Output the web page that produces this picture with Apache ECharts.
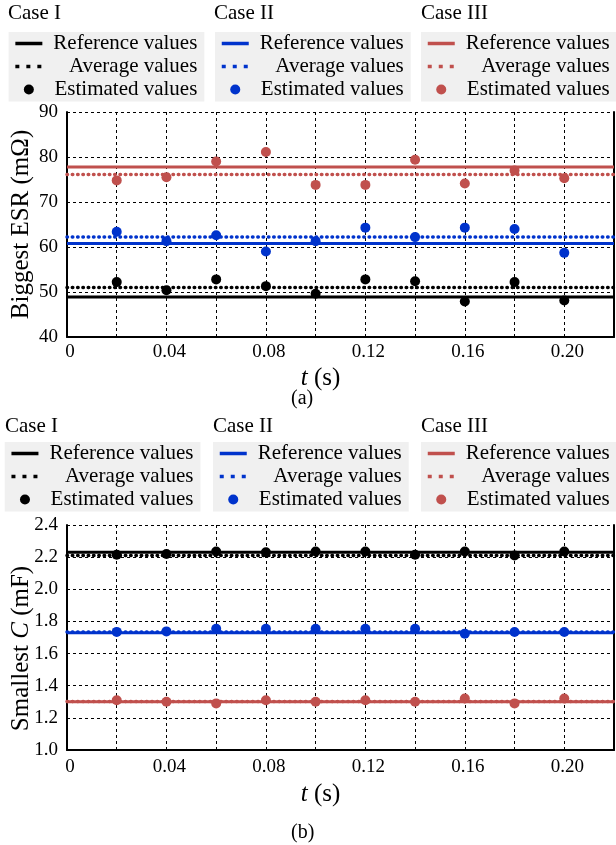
<!DOCTYPE html>
<html>
<head>
<meta charset="utf-8">
<script src="https://cdn.jsdelivr.net/npm/echarts@6/dist/echarts.min.js"></script>
<style>
  html, body { margin: 0; padding: 0; background: #fff; }
  #chart { width: 616px; height: 845px; }
</style>
</head>
<body>
<div id="chart"></div>
<script>
const SERIF = "'Liberation Serif', 'Times New Roman', serif";

const caseNames = ["Case I", "Case II", "Case III"];
const caseColors = ["#000000", "#0033cc", "#c0504d"];
const legendLabels = ["Reference values", "Average values", "Estimated values"];

// time axis
const tSamples = [0.02, 0.04, 0.06, 0.08, 0.10, 0.12, 0.14, 0.16, 0.18, 0.20];
const tExtent = [0, 0.22];
const tTickLabels = ["0", "0.04", "0.08", "0.12", "0.16", "0.20"];

// (a) biggest ESR, mOhm
const esrRef = [48.9, 60.8, 77.8];
const esrAvg = [51.0, 62.2, 76.1];
const esrEstCaseI = [52.2, 50.4, 52.8, 51.3, 49.6, 52.8, 52.4, 47.9, 52.2, 48.1];
const esrEstCaseII = [63.4, 61.3, 62.6, 59.0, 61.3, 64.3, 62.2, 64.3, 64.0, 58.7];
const esrEstCaseIII = [74.8, 75.5, 79.0, 81.1, 73.8, 73.8, 79.4, 74.1, 77.0, 75.3];

// (b) smallest C, mF
const capRef = [2.23, 1.73, 1.30];
const capAvg = [2.21, 1.735, 1.302];
const capEstCaseI = [2.215, 2.22, 2.235, 2.23, 2.235, 2.235, 2.215, 2.235, 2.21, 2.235];
const capEstCaseII = [1.735, 1.738, 1.755, 1.755, 1.755, 1.755, 1.755, 1.724, 1.734, 1.734];
const capEstCaseIII = [1.31, 1.30, 1.29, 1.31, 1.30, 1.31, 1.30, 1.32, 1.29, 1.32];

const panels = [
  { id: "a", ref: esrRef, avg: esrAvg, est: [esrEstCaseI, esrEstCaseII, esrEstCaseIII],
    yMin: 40, yMax: 90, yStep: 10, yDigits: 0, yName: "Biggest ESR (mΩ)", namePad: [0, 0, 0, 0],
    gridTop: 112, titleTop: 3, legendTop: 32, legendLeft: [8.6, 215, 421], caseLeft: [8, 214, 421],
    tag: "(a)", tagTop: 389 },
  { id: "b", ref: capRef, avg: capAvg, est: [capEstCaseI, capEstCaseII, capEstCaseIII],
    yMin: 1.0, yMax: 2.4, yStep: 0.2, yDigits: 1, yName: "Smallest {i|C} (mF)", namePad: [0, 22, 0, 0],
    gridTop: 525, titleTop: 416, legendTop: 442, legendLeft: [4.7, 213, 421], caseLeft: [5, 213, 421],
    tag: "(b)", tagTop: 823 }
];

function tLabel(v) {
  const k = Math.round(v / 0.02);
  if (k % 2 !== 0) return "";
  return tTickLabels[k / 2] || "";
}

const option = {
  animation: false,
  backgroundColor: "#fff",
  textStyle: { fontFamily: SERIF, color: "#000" },
  title: [],
  legend: [],
  grid: [],
  xAxis: [],
  yAxis: [],
  series: []
};

panels.forEach((p, pi) => {
  option.grid.push({ left: 67, top: p.gridTop, width: 547, height: 225,
    containLabel: false, outerBoundsMode: "none" });

  option.xAxis.push({
    type: "value", gridIndex: pi, min: tExtent[0], max: tExtent[1], interval: 0.02,
    name: "{i|t} (s)", nameLocation: "middle", nameGap: pi === 0 ? 29 : 32, nameMoveOverlap: false,
    nameTextStyle: { fontFamily: SERIF, fontSize: 25, color: "#000", padding: [0, 40, 0, 0],
      rich: { i: { fontStyle: "italic", fontFamily: SERIF, fontSize: 25 } } },
    axisLine: { lineStyle: { color: "#000", width: 2 } },
    axisTick: { inside: true, length: 3, lineStyle: { color: "#000" } },
    axisLabel: { formatter: tLabel, fontFamily: SERIF, fontSize: 19, color: "#000",
      margin: pi === 0 ? 6 : 8, showMaxLabel: false, padding: [0, 0, 0, 6] },
    splitLine: { show: true, lineStyle: { color: "#000", width: 1, type: [3, 3] } }
  });

  option.yAxis.push({
    type: "value", gridIndex: pi, min: p.yMin, max: p.yMax, interval: p.yStep,
    name: p.yName, nameLocation: "middle", nameGap: 33, nameMoveOverlap: false,
    nameTextStyle: { fontFamily: SERIF, fontSize: 25, color: "#000", padding: p.namePad,
      rich: { i: { fontStyle: "italic", fontFamily: SERIF, fontSize: 25 } } },
    axisLine: { show: true, lineStyle: { color: "#000", width: 2 } },
    axisTick: { show: false },
    axisLabel: { fontFamily: SERIF, fontSize: 19, color: "#000", margin: 9, padding: [4, 0, 0, 0],
      formatter: (v) => v.toFixed(p.yDigits) },
    splitLine: { show: true, lineStyle: { color: "#000", width: 1, type: [3, 3] } }
  });
  option.yAxis.push({
    type: "value", gridIndex: pi, min: p.yMin, max: p.yMax, interval: p.yStep, position: "right",
    axisLine: { show: true, lineStyle: { color: "#000", width: 2 } },
    axisTick: { show: false }, axisLabel: { show: false }, splitLine: { show: false }
  });

  option.title.push({
    text: p.tag, left: 291, top: p.tagTop, padding: 0,
    textStyle: { fontFamily: SERIF, fontSize: 20, fontWeight: "normal", color: "#000" }
  });

  caseNames.forEach((cn, ci) => {
    const color = caseColors[ci];
    const nRef = p.id + ci + "-ref";
    const nAvg = p.id + ci + "-avg";
    const nEst = p.id + ci + "-est";

    option.title.push({
      text: cn, left: p.caseLeft[ci], top: p.titleTop, padding: 0,
      textStyle: { fontFamily: SERIF, fontSize: 21, fontWeight: "normal", color: "#000" }
    });

    option.legend.push({
      orient: "vertical", left: p.legendLeft[ci], top: p.legendTop,
      backgroundColor: "#f0f0f0", padding: [1, 7, 1.5, 5], itemGap: 2,
      itemWidth: 27, itemHeight: 10, selectedMode: false,
      lineStyle: { width: 3.5 },
      data: [
        { name: nRef, itemStyle: { opacity: 0 } },
        { name: nAvg, itemStyle: { opacity: 0 }, lineStyle: { type: [4, 7], cap: "butt" } },
        { name: nEst }
      ],
      formatter: (name) => "{r|" + legendLabels[["ref", "avg", "est"].indexOf(name.split("-")[1])] + "}",
      textStyle: {
        rich: { r: { width: 150, align: "right", fontFamily: SERIF, fontSize: 21, lineHeight: 22.5, color: "#000" } }
      }
    });

    option.series.push({
      name: nRef, type: "line", xAxisIndex: pi, yAxisIndex: pi * 2, symbol: "none", z: 3,
      data: [[tExtent[0], p.ref[ci]], [tExtent[1], p.ref[ci]]],
      lineStyle: { color: color, width: 3 }, itemStyle: { color: color }
    });
    option.series.push({
      name: nAvg, type: "line", xAxisIndex: pi, yAxisIndex: pi * 2, symbol: "none", z: 3,
      data: [[tExtent[0], p.avg[ci]], [tExtent[1], p.avg[ci]]],
      lineStyle: { color: color, width: 3.5, type: [0.5, 4.8], cap: "round" }, itemStyle: { color: color }
    });
    option.series.push({
      name: nEst, type: "scatter", xAxisIndex: pi, yAxisIndex: pi * 2, symbol: "circle", symbolSize: 10, z: 5,
      data: tSamples.map((t, k) => [t, p.est[ci][k]]),
      itemStyle: { color: color, opacity: 1 }
    });
  });
});

const chart = echarts.init(document.getElementById("chart"), null, { renderer: "canvas" });
chart.setOption(option);
</script>
</body>
</html>
